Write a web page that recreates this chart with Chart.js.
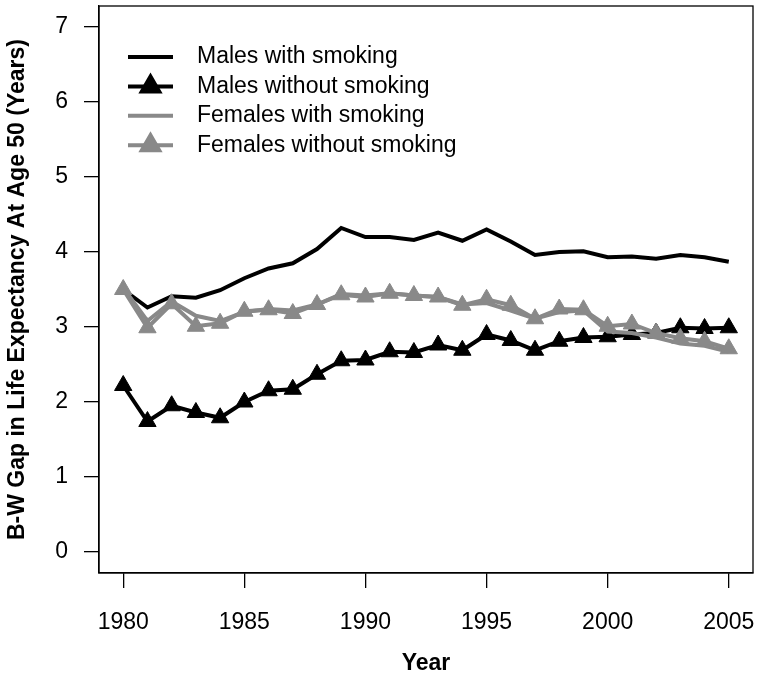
<!DOCTYPE html>
<html>
<head>
<meta charset="utf-8">
<title>B-W Gap in Life Expectancy At Age 50</title>
<script src="https://cdn.jsdelivr.net/npm/chart.js@4.4.1/dist/chart.umd.min.js"></script>
<style>
  html, body { margin: 0; padding: 0; background: #fff; }
  canvas { display: block; }
</style>
</head>
<body>
<canvas id="graphe" width="762" height="679" style="width:762px;height:679px"></canvas>
<script>
// Données (écart B-W, années)
const years = [1980, 1981, 1982, 1983, 1984, 1985, 1986, 1987, 1988, 1989, 1990, 1991, 1992,
               1993, 1994, 1995, 1996, 1997, 1998, 1999, 2000, 2001, 2002, 2003, 2004, 2005];
const malesWithSmoking = [3.50, 3.26, 3.41, 3.39, 3.49, 3.65, 3.78, 3.85, 4.04, 4.32, 4.20, 4.20, 4.16,
                          4.26, 4.15, 4.30, 4.14, 3.96, 4.00, 4.01, 3.93, 3.94, 3.91, 3.96, 3.93, 3.87];
const malesWithoutSmoking = [2.22, 1.74, 1.95, 1.86, 1.79, 2.00, 2.15, 2.17, 2.37, 2.55, 2.56, 2.67, 2.66,
                             2.76, 2.69, 2.90, 2.82, 2.69, 2.81, 2.86, 2.87, 2.90, 2.92, 2.99, 2.98, 2.99];
const femalesWithSmoking = [3.52, 3.08, 3.34, 3.15, 3.08, 3.20, 3.24, 3.22, 3.30, 3.44, 3.42, 3.45, 3.42,
                            3.40, 3.30, 3.32, 3.22, 3.11, 3.20, 3.22, 2.94, 2.92, 2.86, 2.78, 2.75, 2.67];
const femalesWithoutSmoking = [3.50, 2.99, 3.31, 3.01, 3.05, 3.21, 3.23, 3.18, 3.30, 3.43, 3.40, 3.45, 3.42,
                               3.40, 3.29, 3.37, 3.29, 3.11, 3.24, 3.23, 3.01, 3.04, 2.92, 2.85, 2.81, 2.71];
const xTicks = [1980, 1985, 1990, 1995, 2000, 2005];
const yTicks = [0, 1, 2, 3, 4, 5, 6, 7];

const BLACK = '#000000';
const GREY = '#898989';
const FONT = "'Liberation Sans', Arial, Helvetica, sans-serif";
const FSIZE = 23;

function points(values) {
    return years.map((yr, i) => ({ x: yr, y: values[i] }));
}

function serie(label, values, color, marker, order) {
    return {
        label: label,
        data: points(values),
        borderColor: color,
        backgroundColor: color,
        borderWidth: 4,
        tension: 0,
        pointStyle: marker ? 'triangle' : false,
        pointRadius: marker ? 10 : 0,
        pointBackgroundColor: color,
        pointBorderColor: color,
        pointBorderWidth: 1,
        order: order
    };
}

// Cadre autour de la zone du graphique
const boxPlugin = {
    id: 'box',
    afterDraw(chart) {
        const { ctx, chartArea: a } = chart;
        ctx.save();
        ctx.strokeStyle = BLACK;
        ctx.lineWidth = 1.3;
        ctx.strokeRect(a.left, a.top, a.right - a.left, a.bottom - a.top);
        ctx.restore();
    }
};

// Légende dans la zone du graphique, en haut à gauche
const legendPlugin = {
    id: 'innerLegend',
    afterDraw(chart) {
        const { ctx, chartArea: a } = chart;
        const x0 = a.left + 29, x1 = a.left + 74, tx = a.left + 98;
        ctx.save();
        ctx.font = FSIZE + 'px ' + FONT;
        ctx.textBaseline = 'middle';
        ctx.textAlign = 'left';
        chart.data.datasets.forEach((ds, i) => {
            const y = a.top + 51 + i * 29.4;
            ctx.strokeStyle = ds.borderColor;
            ctx.lineWidth = ds.borderWidth;
            ctx.beginPath();
            ctx.moveTo(x0, y);
            ctx.lineTo(x1, y);
            ctx.stroke();
            if (ds.pointStyle) {
                ctx.fillStyle = ds.borderColor;
                Chart.helpers.drawPoint(ctx, { pointStyle: ds.pointStyle, radius: ds.pointRadius, borderWidth: 1 }, (x0 + x1) / 2, y);
                ctx.fill();
            }
            ctx.fillStyle = BLACK;
            ctx.fillText(ds.label, tx, y);
        });
        ctx.restore();
    }
};

Chart.defaults.font.family = FONT;
Chart.defaults.font.size = FSIZE;
Chart.defaults.color = BLACK;

const ctx = document.getElementById('graphe').getContext('2d');
const chartInstance = new Chart(ctx, {
    type: 'line',
    data: {
        datasets: [
            serie('Males with smoking', malesWithSmoking, BLACK, false, 4),
            serie('Males without smoking', malesWithoutSmoking, BLACK, true, 3),
            serie('Females with smoking', femalesWithSmoking, GREY, false, 2),
            serie('Females without smoking', femalesWithoutSmoking, GREY, true, 1)
        ]
    },
    options: {
        responsive: false,
        animation: false,
        layout: { autoPadding: false, padding: { top: 6, right: 9, left: 0, bottom: 0 } },
        plugins: {
            legend: { display: false },
            tooltip: { enabled: false }
        },
        scales: {
            x: {
                type: 'linear',
                min: 1979,
                max: 2006,
                afterBuildTicks: s => { s.ticks = xTicks.map(v => ({ value: v })); },
                afterFit: s => { s.height = 106; s.paddingLeft = 0; s.paddingRight = 0; },
                ticks: {
                    padding: 21,
                    maxRotation: 0,
                    autoSkip: false,
                    callback: v => String(v),
                    font: { size: FSIZE }
                },
                grid: {
                    drawOnChartArea: false,
                    drawTicks: true,
                    tickLength: 15,
                    color: BLACK,
                    lineWidth: 1.3
                },
                border: { display: true, color: BLACK, width: 1.3 },
                title: {
                    display: true,
                    text: 'Year',
                    font: { size: FSIZE, weight: 'bold' },
                    padding: { top: 0, bottom: 2 }
                }
            },
            y: {
                type: 'linear',
                min: -0.28,
                max: 7.28,
                afterBuildTicks: s => { s.ticks = yTicks.map(v => ({ value: v })); },
                afterFit: s => { s.width = 99; s.paddingTop = 0; s.paddingBottom = 0; },
                ticks: {
                    padding: 16,
                    autoSkip: false,
                    callback: v => String(v),
                    font: { size: FSIZE }
                },
                grid: {
                    drawOnChartArea: false,
                    drawTicks: true,
                    tickLength: 15,
                    color: BLACK,
                    lineWidth: 1.3
                },
                border: { display: true, color: BLACK, width: 1.3 },
                title: {
                    display: true,
                    text: 'B-W Gap in Life Expectancy At Age 50 (Years)',
                    font: { size: FSIZE, weight: 'bold' },
                    padding: { top: 4, bottom: 0 }
                }
            }
        }
    },
    plugins: [boxPlugin, legendPlugin]
});
</script>
</body>
</html>
